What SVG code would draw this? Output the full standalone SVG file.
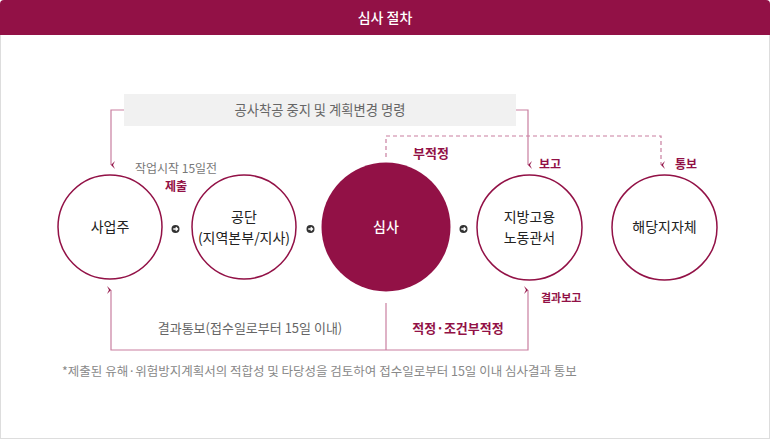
<svg xmlns="http://www.w3.org/2000/svg" width="770" height="439" viewBox="0 0 770 439">
<style>
text{font-family:"Noto Sans CJK KR","Noto Sans",sans-serif;}
.node{fill:#fff;stroke:#921146;stroke-width:1.5;}
.lbl{font-size:14px;fill:#222;text-anchor:middle;}
.gray{font-size:13px;fill:#666;text-anchor:middle;}
.red{font-size:13px;fill:#921146;font-weight:bold;}
.ln{fill:none;stroke:#c97fa0;stroke-width:1.2;}
.dash{stroke-dasharray:4 3;}
.ico{fill:#333;}
.icoa{fill:none;stroke:#fff;stroke-width:1.3;}
</style>
<defs>
<marker id="ah" viewBox="0 0 8 8" refX="4" refY="6" markerWidth="8" markerHeight="8" orient="auto-start-reverse" markerUnits="userSpaceOnUse">
<path d="M0,2 L4,6 L8,2 L4,4 Z" fill="#921146"/>
</marker>
</defs>
<rect x="0.5" y="30" width="769" height="408.5" fill="#fff" stroke="#ddd"/>
<path d="M0,35 V4 Q0,0 4,0 H766 Q770,0 770,4 V35 Z" fill="#921146"/>
<text x="385" y="23" font-size="14" font-weight="500" fill="#fff" text-anchor="middle">심사 절차</text>

<g id="connectors">
<path class="ln" d="M124,110 H111 V165" marker-end="url(#ah)"/>
<path class="ln" d="M516,110 H528 V165" marker-end="url(#ah)"/>
<path class="ln dash" d="M386,157 V136 H661 V165" marker-end="url(#ah)"/>
<path class="ln" d="M111,290 V350 H528 V290" marker-start="url(#ah)" marker-end="url(#ah)"/>
<path class="ln" d="M386,303 V350"/>
</g>

<g id="order">
<rect x="124" y="94" width="392" height="32" fill="#f1f1f1"/>
<text class="gray" x="320" y="115" font-size="13.3" style="font-size:13.3px">공사착공 중지 및 계획변경 명령</text>
</g>

<g id="n1">
<circle class="node" cx="110" cy="227" r="52"/>
<text class="lbl" x="110" y="232">사업주</text>
</g>
<g id="n2">
<circle class="node" cx="244" cy="227" r="52"/>
<text class="lbl" x="244" y="222">공단</text>
<text class="lbl" x="244" y="243">(지역본부/지사)</text>
</g>
<g id="n3">
<circle cx="386" cy="227" r="64.5" fill="#921146"/>
<text class="lbl" x="386" y="232" style="fill:#fff;font-weight:500">심사</text>
</g>
<g id="n4">
<circle class="node" cx="529.5" cy="227.5" r="52.5"/>
<text class="lbl" x="529.5" y="222">지방고용</text>
<text class="lbl" x="529.5" y="243">노동관서</text>
</g>
<g id="n5">
<circle class="node" cx="664.5" cy="227.5" r="52.5"/>
<text class="lbl" x="664.5" y="232">해당지자체</text>
</g>

<g id="icons">
<circle class="ico" cx="175.5" cy="229" r="4"/><path class="icoa" d="M173.3,229 H177.3 M175.8,227.3 L177.5,229 L175.8,230.7"/>
<circle class="ico" cx="310.5" cy="229" r="4"/><path class="icoa" d="M308.3,229 H312.3 M310.8,227.3 L312.5,229 L310.8,230.7"/>
<circle class="ico" cx="463.5" cy="229" r="4"/><path class="icoa" d="M461.3,229 H465.3 M463.8,227.3 L465.5,229 L463.8,230.7"/>
</g>

<g id="labels">
<text x="176" y="173" font-size="12" fill="#777" text-anchor="middle">작업시작 15일전</text>
<text class="red" x="176" y="191" text-anchor="middle" style="font-size:12px">제출</text>
<text class="red" x="431" y="158" text-anchor="middle">부적정</text>
<text class="red" x="539" y="169" style="font-size:12px">보고</text>
<text class="red" x="675" y="169" style="font-size:12px">통보</text>
<text class="red" x="541" y="302" style="font-size:11px">결과보고</text>
<text class="gray" x="250" y="333">결과통보(접수일로부터 15일 이내)</text>
<text class="red" x="458" y="333" text-anchor="middle">적정·조건부적정</text>
<text x="62" y="376" font-size="12.5" fill="#888">*제출된 유해·위험방지계획서의 적합성 및 타당성을 검토하여 접수일로부터 15일 이내 심사결과 통보</text>
</g>
</svg>
